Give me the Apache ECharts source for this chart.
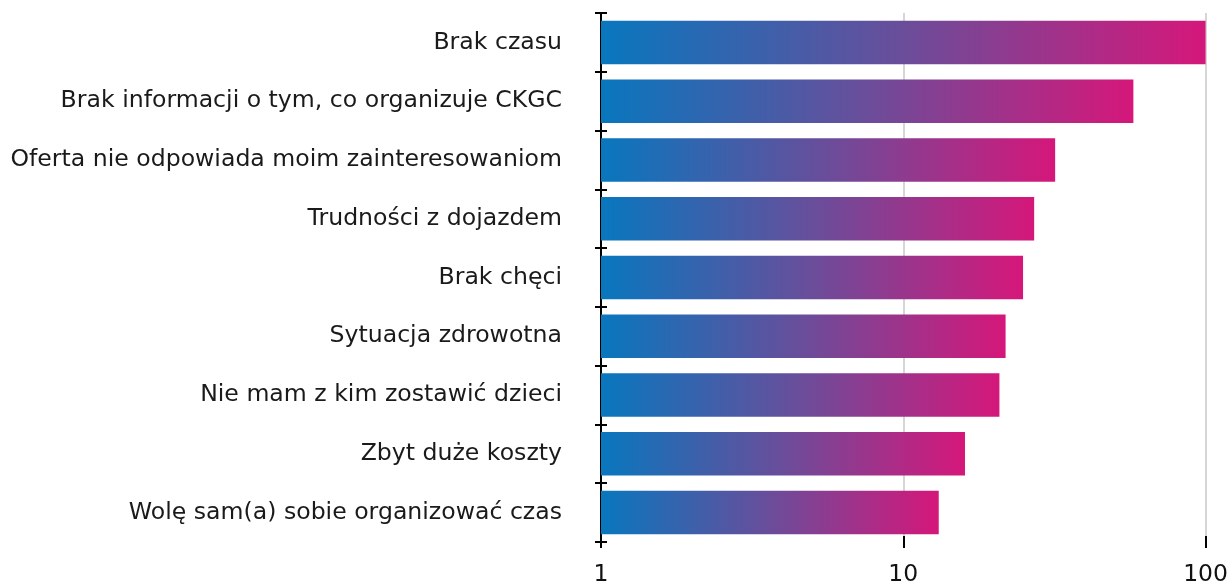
<!DOCTYPE html>
<html>
<head>
	<meta charset="utf-8" />
	<title>Powody</title>
	<script src="https://cdn.jsdelivr.net/npm/echarts@6/dist/echarts.min.js"></script>
	<style>
		html, body { margin: 0; padding: 0; background: #fff; }
		#main { width: 1231px; height: 587px; }
	</style>
</head>
<body>
	<div id="main"></div>
	<script type="text/javascript">
		// kategorie od góry do dołu
		var categories = [
			'Brak czasu',
			'Brak informacji o tym, co organizuje CKGC',
			'Oferta nie odpowiada moim zainteresowaniom',
			'Trudności z dojazdem',
			'Brak chęci',
			'Sytuacja zdrowotna',
			'Nie mam z kim zostawić dzieci',
			'Zbyt duże koszty',
			'Wolę sam(a) sobie organizować czas'
		];
		var values = [100, 57.7, 31.8, 27.1, 24.9, 21.8, 20.8, 16.0, 13.1];
		var xTicks = [1, 10, 100];

		var font = '"DejaVu Sans", "Liberation Sans", sans-serif';
		var barColor = new echarts.graphic.LinearGradient(0, 0, 1, 0, [
			{ offset: 0, color: '#0877be' },
			{ offset: 0.5, color: '#6a4d9a' },
			{ offset: 1, color: '#d5177a' }
		]);

		var myChart = echarts.init(document.getElementById('main'));
		var option = {
			animation: false,
			grid: { left: 601, right: 25, top: 13, bottom: 45 },
			xAxis: {
				type: 'log',
				logBase: 10,
				min: xTicks[0],
				max: xTicks[xTicks.length - 1],
				offset: -6,
				axisLine: { show: false },
				axisTick: { show: true, inside: false, length: 12, lineStyle: { color: '#000', width: 2 } },
				minorTick: { show: false },
				axisLabel: { color: '#111', fontSize: 23.5, fontFamily: font, margin: 27 },
				splitLine: { show: true, lineStyle: { color: '#c8c8c8', width: 1.5 } }
			},
			yAxis: [{
				type: 'category',
				inverse: true,
				data: categories,
				axisLine: { show: true, lineStyle: { color: '#000', width: 2 } },
				axisTick: { show: true, length: 6, lineStyle: { color: '#000', width: 2 } },
				axisLabel: { color: '#1a1a1a', fontSize: 23.6, fontFamily: font, margin: 39 },
				splitLine: { show: false }
			}, {
				type: 'category',
				position: 'left',
				inverse: true,
				data: categories,
				axisLine: { show: false },
				axisTick: { show: true, inside: true, length: 6, lineStyle: { color: '#000', width: 2 } },
				axisLabel: { show: false },
				splitLine: { show: false }
			}],
			series: [{
				type: 'bar',
				data: values,
				barWidth: '74%',
				itemStyle: { color: barColor }
			}]
		};
		myChart.setOption(option);
	</script>
</body>
</html>
